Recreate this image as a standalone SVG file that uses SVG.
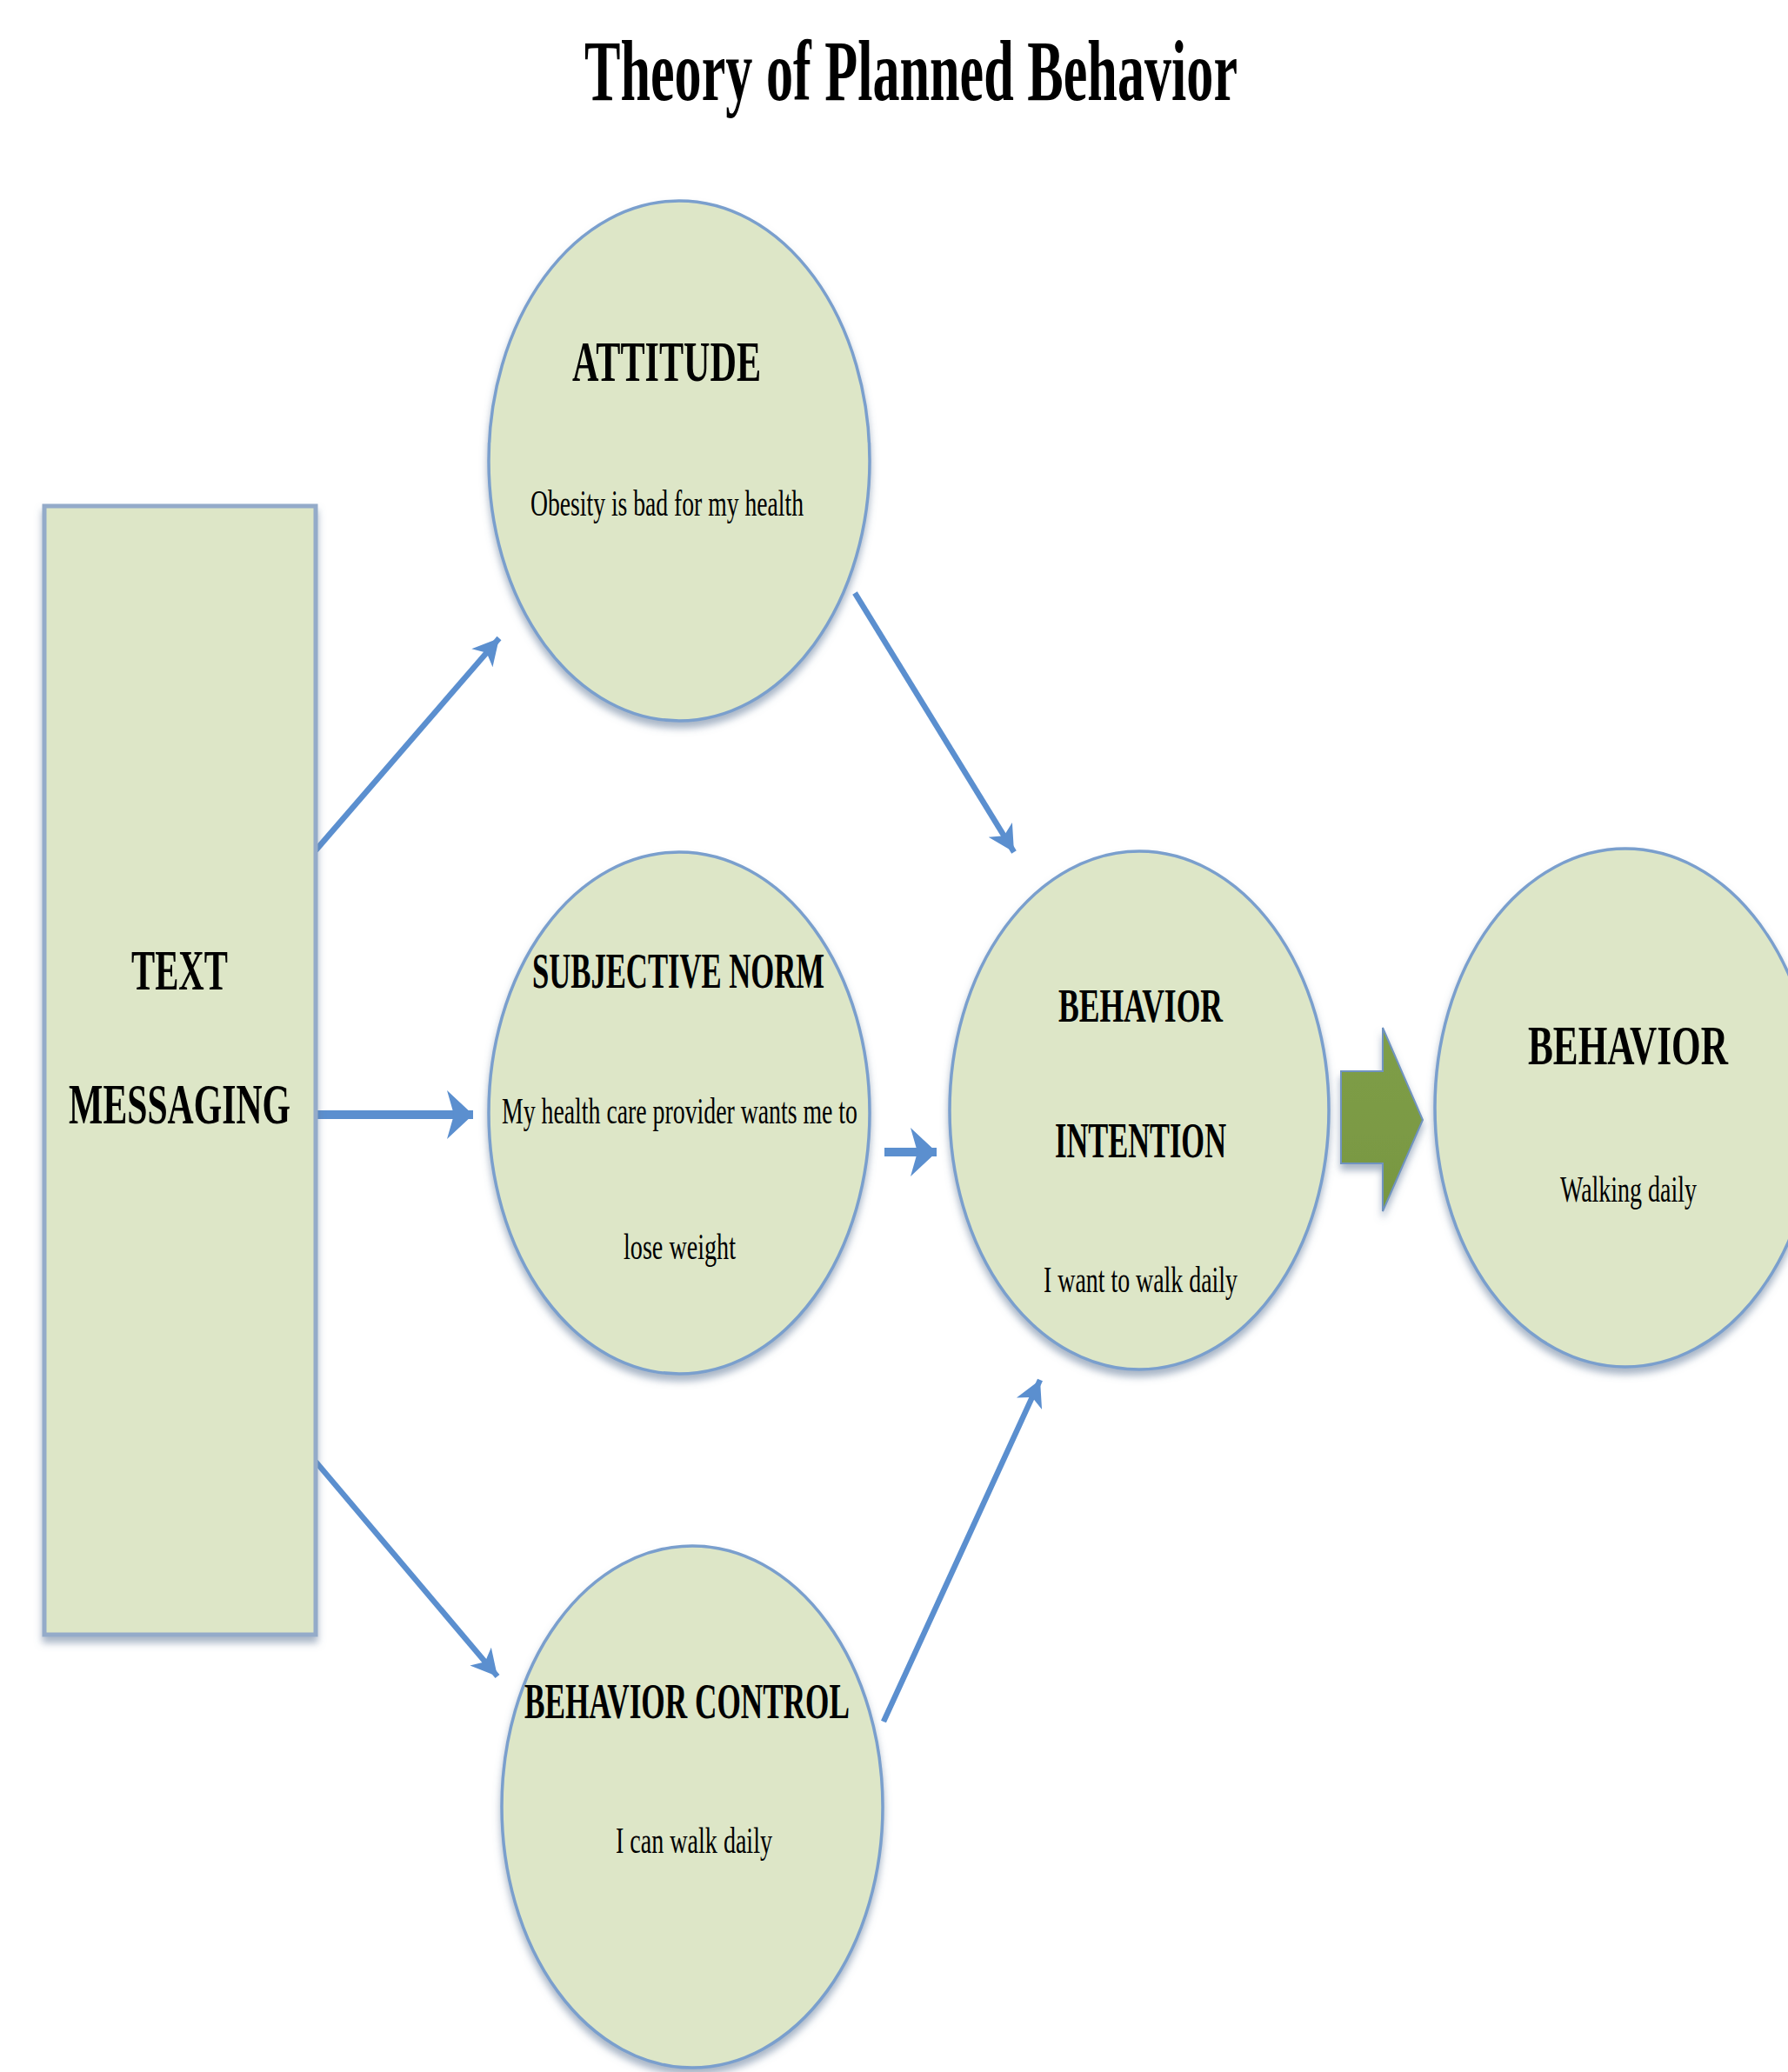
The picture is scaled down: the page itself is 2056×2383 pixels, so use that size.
<svg xmlns="http://www.w3.org/2000/svg" width="2056" height="2383" viewBox="0 0 2056 2383">
<style>
.node{fill:#dde6c7;stroke:#7a9fcd;stroke-width:3.5}
.rect{fill:#dde6c7;stroke:#94abc9;stroke-width:5}
.h{font-family:"Liberation Serif",serif;font-weight:bold;fill:#000}
.b{font-family:"Liberation Serif",serif;fill:#000}
.c{fill:none;stroke:#5b8fcf;stroke-linecap:butt}
</style>
<defs>
<filter id="sh" x="-20%" y="-20%" width="140%" height="140%">
<feDropShadow dx="0" dy="7" stdDeviation="4" flood-color="#5f7897" flood-opacity="0.55"/>
</filter>
<marker id="ah" markerUnits="userSpaceOnUse" markerWidth="40" markerHeight="40" viewBox="0 0 40 40" refX="34" refY="20" orient="auto">
<path d="M4,4 L34,20 L4,36 L12,20 z" fill="#5b8fcf"/>
</marker>
<marker id="ahb" markerUnits="userSpaceOnUse" markerWidth="40" markerHeight="64" viewBox="0 0 40 64" refX="34" refY="32" orient="auto">
<path d="M4,4 L34,32 L4,60 L12,32 z" fill="#5b8fcf"/>
</marker>
<linearGradient id="gg" x1="0" y1="0" x2="0" y2="1">
<stop offset="0" stop-color="#7f9e47"/>
<stop offset="1" stop-color="#789742"/>
</linearGradient>
</defs>
<rect width="2056" height="2383" fill="#ffffff"/>
<text class="h" x="672" y="115" font-size="100" textLength="751" lengthAdjust="spacingAndGlyphs">Theory of Planned Behavior</text>

<g id="connectors">
<line class="c" x1="363" y1="978" x2="574" y2="734" stroke-width="6.5" marker-end="url(#ah)"/>
<line class="c" x1="363" y1="1282" x2="544" y2="1282" stroke-width="10" marker-end="url(#ahb)"/>
<line class="c" x1="363" y1="1681" x2="572" y2="1928" stroke-width="6.5" marker-end="url(#ah)"/>
<line class="c" x1="983" y1="682" x2="1166" y2="980" stroke-width="6.5" marker-end="url(#ah)"/>
<line class="c" x1="1017" y1="1325" x2="1077" y2="1325" stroke-width="10" marker-end="url(#ahb)"/>
<line class="c" x1="1016" y1="1980" x2="1196" y2="1587" stroke-width="6.5" marker-end="url(#ah)"/>
<path id="green-arrow" d="M1542,1232 L1590,1232 L1590,1182 L1636,1288 L1590,1393 L1590,1338 L1542,1338 z" fill="url(#gg)" stroke="#6f93c0" stroke-width="2" filter="url(#sh)"/>
</g>

<g id="text-messaging">
<rect class="rect" x="51" y="582" width="312" height="1298" filter="url(#sh)"/>
<text class="h" x="151" y="1138" font-size="66" textLength="111" lengthAdjust="spacingAndGlyphs">TEXT</text>
<text class="h" x="79" y="1292" font-size="66" textLength="255" lengthAdjust="spacingAndGlyphs">MESSAGING</text>
</g>

<g id="attitude">
<ellipse class="node" cx="781" cy="530" rx="219" ry="299" filter="url(#sh)"/>
<text class="h" x="658" y="438" font-size="66" textLength="217" lengthAdjust="spacingAndGlyphs">ATTITUDE</text>
<text class="b" x="610" y="593" font-size="42" textLength="314" lengthAdjust="spacingAndGlyphs">Obesity is bad for my health</text>
</g>

<g id="subjective-norm">
<ellipse class="node" cx="781" cy="1280" rx="219" ry="300" filter="url(#sh)"/>
<text class="h" x="612" y="1136" font-size="57" textLength="336" lengthAdjust="spacingAndGlyphs">SUBJECTIVE NORM</text>
<text class="b" x="577" y="1292" font-size="42" textLength="409" lengthAdjust="spacingAndGlyphs">My health care provider wants me to</text>
<text class="b" x="717" y="1448" font-size="42" textLength="129" lengthAdjust="spacingAndGlyphs">lose weight</text>
</g>

<g id="behavior-control">
<ellipse class="node" cx="796" cy="2078" rx="219" ry="300" filter="url(#sh)"/>
<text class="h" x="603" y="1976" font-size="57" textLength="374" lengthAdjust="spacingAndGlyphs">BEHAVIOR CONTROL</text>
<text class="b" x="708" y="2131" font-size="42" textLength="180" lengthAdjust="spacingAndGlyphs">I can walk daily</text>
</g>

<g id="behavior-intention">
<ellipse class="node" cx="1310" cy="1277" rx="218" ry="298" filter="url(#sh)"/>
<text class="h" x="1217" y="1175" font-size="55" textLength="189" lengthAdjust="spacingAndGlyphs">BEHAVIOR</text>
<text class="h" x="1213" y="1331" font-size="57" textLength="197" lengthAdjust="spacingAndGlyphs">INTENTION</text>
<text class="b" x="1200" y="1486" font-size="42" textLength="223" lengthAdjust="spacingAndGlyphs">I want to walk daily</text>
</g>

<g id="behavior">
<ellipse class="node" cx="1869" cy="1274" rx="219" ry="298" filter="url(#sh)"/>
<text class="h" x="1757" y="1224" font-size="64" textLength="230" lengthAdjust="spacingAndGlyphs">BEHAVIOR</text>
<text class="b" x="1794" y="1382" font-size="42" textLength="157" lengthAdjust="spacingAndGlyphs">Walking daily</text>
</g>
</svg>
